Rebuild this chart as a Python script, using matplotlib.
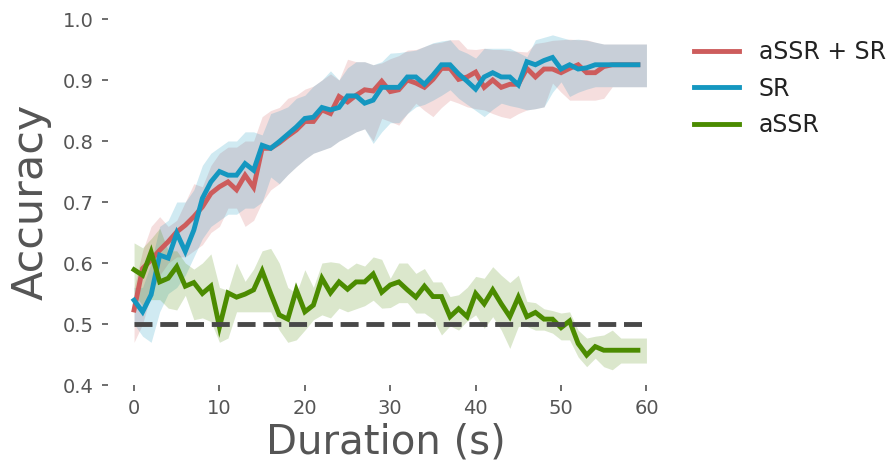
import matplotlib
matplotlib.use("Agg")
import matplotlib.pyplot as plt
import numpy as np

# ---------------- data ----------------
duration_line = list(range(60))          # line points, 0..59 s
duration_band = list(range(61))          # band points, 0..60 s

both_mean = [0.523, 0.591, 0.605, 0.621, 0.635, 0.651, 0.662, 0.676, 0.692, 0.714,
             0.725, 0.733, 0.720, 0.744, 0.724, 0.788, 0.788, 0.797, 0.808, 0.818,
             0.832, 0.832, 0.851, 0.845, 0.873, 0.864, 0.875, 0.884, 0.882, 0.898,
             0.881, 0.884, 0.900, 0.895, 0.888, 0.901, 0.919, 0.919, 0.901, 0.905,
             0.913, 0.888, 0.900, 0.888, 0.893, 0.893, 0.919, 0.905, 0.918, 0.918,
             0.912, 0.919, 0.925, 0.912, 0.912, 0.922, 0.925, 0.925, 0.925, 0.925]
both_upper = [0.56, 0.62, 0.66, 0.676, 0.66, 0.67, 0.70, 0.73, 0.725, 0.76,
              0.78, 0.79, 0.79, 0.80, 0.80, 0.84, 0.85, 0.855, 0.87, 0.875,
              0.885, 0.89, 0.90, 0.91, 0.90, 0.934, 0.93, 0.93, 0.925, 0.928,
              0.935, 0.94, 0.949, 0.95, 0.955, 0.96, 0.962, 0.966, 0.966, 0.951,
              0.950, 0.952, 0.950, 0.950, 0.948, 0.947, 0.946, 0.960, 0.962, 0.965,
              0.966, 0.967, 0.966, 0.966, 0.962, 0.959, 0.959, 0.959, 0.959, 0.959, 0.959]
both_lower = [0.47, 0.50, 0.55, 0.58, 0.60, 0.61, 0.61, 0.62, 0.63, 0.65,
              0.66, 0.69, 0.69, 0.66, 0.67, 0.70, 0.72, 0.73, 0.745, 0.758,
              0.77, 0.78, 0.785, 0.79, 0.80, 0.807, 0.815, 0.82, 0.80, 0.837,
              0.832, 0.826, 0.845, 0.862, 0.850, 0.840, 0.855, 0.867, 0.862, 0.856,
              0.853, 0.851, 0.845, 0.840, 0.837, 0.845, 0.851, 0.853, 0.856, 0.895,
              0.880, 0.867, 0.867, 0.867, 0.867, 0.870, 0.889, 0.889, 0.889, 0.889, 0.889]

sr_mean = [0.539, 0.520, 0.548, 0.613, 0.608, 0.649, 0.619, 0.654, 0.706, 0.733,
           0.750, 0.744, 0.744, 0.763, 0.752, 0.793, 0.788, 0.799, 0.811, 0.823,
           0.837, 0.839, 0.855, 0.851, 0.855, 0.874, 0.874, 0.862, 0.867, 0.888,
           0.888, 0.888, 0.905, 0.905, 0.893, 0.908, 0.925, 0.925, 0.910, 0.898,
           0.885, 0.905, 0.912, 0.905, 0.905, 0.892, 0.930, 0.925, 0.932, 0.937,
           0.918, 0.925, 0.918, 0.920, 0.925, 0.925, 0.925, 0.925, 0.925, 0.925]
sr_upper = [0.56, 0.56, 0.60, 0.66, 0.67, 0.70, 0.70, 0.72, 0.76, 0.78,
            0.79, 0.80, 0.80, 0.815, 0.815, 0.81, 0.845, 0.85, 0.856, 0.87,
            0.875, 0.89, 0.90, 0.915, 0.90, 0.92, 0.93, 0.93, 0.925, 0.93,
            0.944, 0.945, 0.947, 0.949, 0.955, 0.961, 0.964, 0.966, 0.950, 0.944,
            0.936, 0.952, 0.952, 0.952, 0.952, 0.945, 0.938, 0.966, 0.970, 0.974,
            0.970, 0.966, 0.967, 0.965, 0.962, 0.959, 0.959, 0.959, 0.959, 0.959, 0.959]
sr_lower = [0.50, 0.48, 0.47, 0.52, 0.55, 0.56, 0.58, 0.61, 0.64, 0.66,
            0.67, 0.68, 0.68, 0.69, 0.69, 0.70, 0.741, 0.73, 0.745, 0.758,
            0.77, 0.78, 0.785, 0.79, 0.80, 0.807, 0.815, 0.82, 0.796, 0.815,
            0.830, 0.830, 0.845, 0.856, 0.860, 0.867, 0.875, 0.884, 0.870, 0.860,
            0.850, 0.840, 0.852, 0.862, 0.858, 0.855, 0.851, 0.853, 0.856, 0.880,
            0.897, 0.873, 0.880, 0.885, 0.889, 0.889, 0.889, 0.889, 0.889, 0.889, 0.889]

assr_mean = [0.589, 0.580, 0.618, 0.569, 0.575, 0.594, 0.562, 0.568, 0.550, 0.562,
             0.495, 0.551, 0.544, 0.549, 0.556, 0.587, 0.550, 0.515, 0.508, 0.556,
             0.520, 0.531, 0.575, 0.551, 0.569, 0.557, 0.569, 0.569, 0.582, 0.552,
             0.564, 0.569, 0.556, 0.544, 0.562, 0.545, 0.545, 0.512, 0.525, 0.512,
             0.550, 0.533, 0.556, 0.533, 0.512, 0.544, 0.512, 0.519, 0.508, 0.508,
             0.494, 0.505, 0.468, 0.449, 0.463, 0.457, 0.457, 0.457, 0.457, 0.457]
assr_upper = [0.633, 0.625, 0.640, 0.657, 0.620, 0.620, 0.600, 0.590, 0.600, 0.615,
              0.560, 0.555, 0.600, 0.570, 0.590, 0.620, 0.624, 0.600, 0.560, 0.550,
              0.589, 0.560, 0.600, 0.602, 0.600, 0.590, 0.600, 0.595, 0.610, 0.606,
              0.575, 0.600, 0.600, 0.583, 0.591, 0.569, 0.569, 0.545, 0.548, 0.560,
              0.578, 0.575, 0.594, 0.580, 0.568, 0.580, 0.537, 0.535, 0.525, 0.522,
              0.518, 0.520, 0.490, 0.477, 0.480, 0.482, 0.490, 0.477, 0.477, 0.477, 0.477]
assr_lower = [0.550, 0.530, 0.540, 0.540, 0.526, 0.523, 0.547, 0.507, 0.510, 0.504,
              0.470, 0.477, 0.520, 0.520, 0.520, 0.520, 0.520, 0.490, 0.470, 0.474,
              0.490, 0.507, 0.515, 0.510, 0.526, 0.520, 0.525, 0.530, 0.539, 0.526,
              0.527, 0.535, 0.535, 0.518, 0.518, 0.508, 0.482, 0.497, 0.490, 0.505,
              0.515, 0.493, 0.512, 0.490, 0.460, 0.496, 0.496, 0.490, 0.490, 0.485,
              0.474, 0.474, 0.446, 0.430, 0.444, 0.430, 0.425, 0.436, 0.436, 0.436, 0.436]

chance_x = [0, 60]
chance_y = [0.5, 0.5]

series_labels = ["aSSR + SR", "SR", "aSSR"]
series_colors = ["#cd5c5c", "#1497c0", "#4b8b00"]

x_ticks = [0, 10, 20, 30, 40, 50, 60]
y_ticks = [0.4, 0.5, 0.6, 0.7, 0.8, 0.9, 1.0]

# ---------------- plot ----------------
fig = plt.figure(figsize=(8.86, 4.66), dpi=100)
ax = fig.add_axes([0.1219, 0.1738, 0.627, 0.7854])

means = [both_mean, sr_mean, assr_mean]
uppers = [both_upper, sr_upper, assr_upper]
lowers = [both_lower, sr_lower, assr_lower]

for m, u, l, c, lab in zip(means, uppers, lowers, series_colors, series_labels):
    ax.fill_between(duration_band, l, u, color=c, alpha=0.2, linewidth=0)
for m, c, lab in zip(means, series_colors, series_labels):
    ax.plot(duration_line, m, color=c, lw=3.5, label=lab, solid_joinstyle="miter")

ax.plot(chance_x, chance_y, ls="--", color="#484848", lw=3.5)

ax.set_xlim(-3.05, 62)
ax.set_ylim(0.4, 1.0)
ax.set_xticks(x_ticks)
ax.set_yticks(y_ticks)
ax.set_yticklabels([f"{v:.1f}" for v in y_ticks])
for s in ax.spines.values():
    s.set_visible(False)
ax.tick_params(axis="both", direction="out", length=4, width=1.2,
               color="#555555", labelcolor="#555555", labelsize=14, pad=6)
ax.set_xlabel("Duration (s)", fontsize=29, color="#555555", labelpad=3)
ax.set_ylabel("Accuracy", fontsize=31, color="#555555", labelpad=8)

leg = ax.legend(loc="upper left", bbox_to_anchor=(1.016, 1.0), frameon=False,
                fontsize=17, handlelength=1.9, handletextpad=0.85, labelspacing=0.52)
for t in leg.get_texts():
    t.set_color("#222222")

fig.savefig("out.png", dpi=100)
